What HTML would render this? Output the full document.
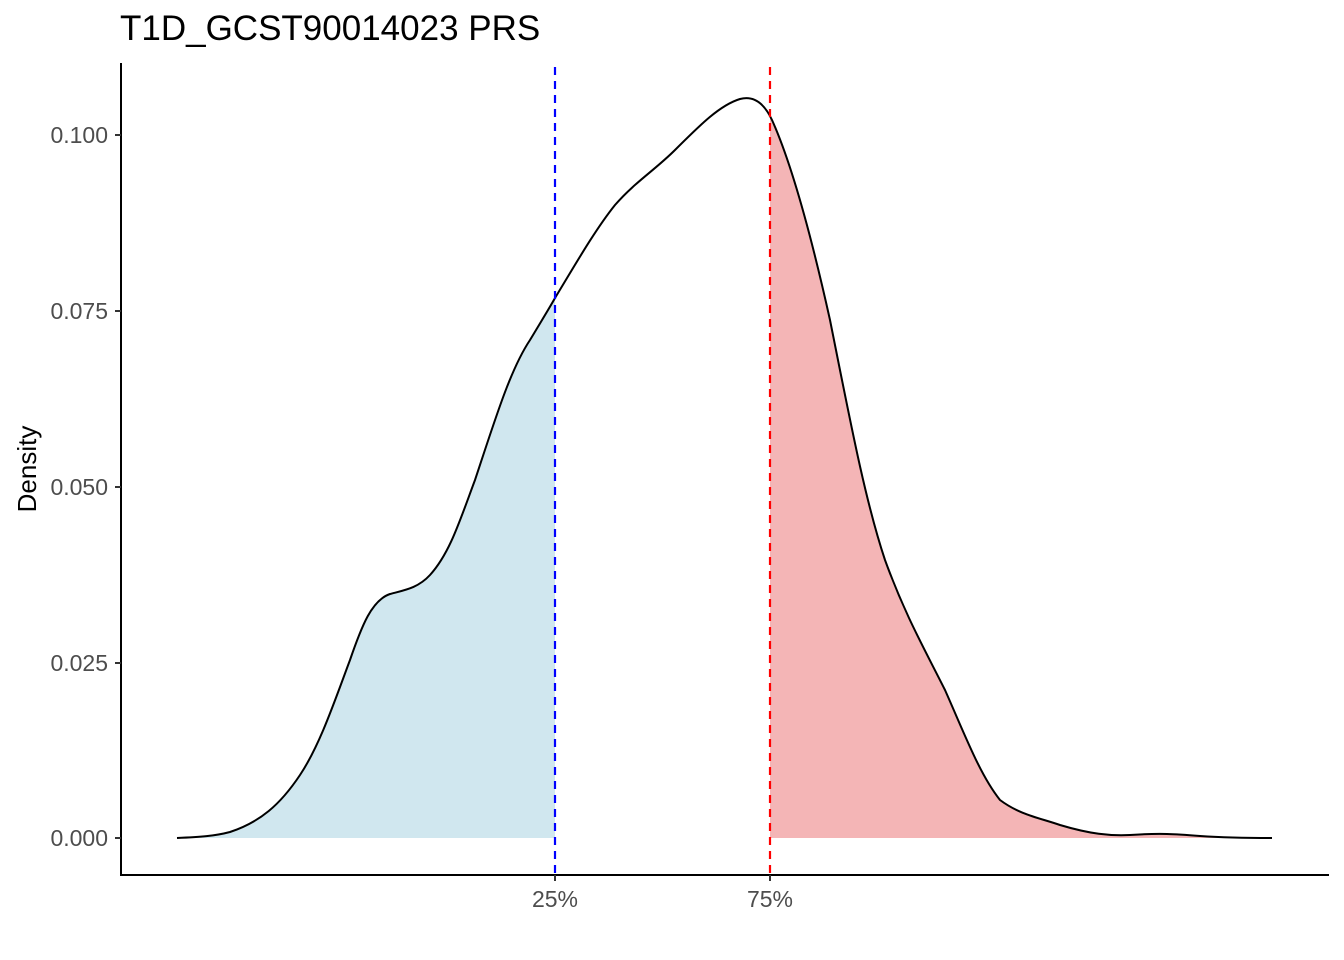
<!DOCTYPE html>
<html><head><meta charset="utf-8"><style>
body{margin:0;background:#fff;}
svg{display:block;font-family:"Liberation Sans",Arial,sans-serif;}
</style></head><body>
<svg width="1344" height="960" viewBox="0 0 1344 960" xmlns="http://www.w3.org/2000/svg">
<defs>
<path id="c" d="M177,838 C200,837 215,836 230,832 C260,822 280,805 300,775 C320,745 335,700 350,660 C362,625 372,600 390,594 C405,590 418,588 430,575 C450,553 460,520 475,480 C495,420 510,370 530,340 C545,315 550,307 555,298 C575,265 595,230 615,205 C635,182 655,170 675,150 C700,125 720,105 740,99 C755,95 765,105 772,120 C790,160 810,230 830,320 C850,420 865,500 885,560 C905,615 925,650 945,690 C965,735 980,775 1000,800 C1020,815 1040,818 1060,825 C1090,834 1110,836 1130,835 C1160,833 1175,834 1200,836 C1230,838 1250,838 1272,838"/>
<clipPath id="lb"><rect x="0" y="0" width="555" height="838"/></clipPath>
<clipPath id="rr"><rect x="770" y="0" width="600" height="838"/></clipPath>
</defs>
<text x="120" y="40" font-size="35" fill="#000">T1D_GCST90014023 PRS</text>
<g clip-path="url(#lb)"><path d="M177,838 C200,837 215,836 230,832 C260,822 280,805 300,775 C320,745 335,700 350,660 C362,625 372,600 390,594 C405,590 418,588 430,575 C450,553 460,520 475,480 C495,420 510,370 530,340 C545,315 550,307 555,298 C575,265 595,230 615,205 L615,838 Z" fill="#d0e7ef"/></g>
<g clip-path="url(#rr)"><path d="M740,838 L740,99 C755,95 765,105 772,120 C790,160 810,230 830,320 C850,420 865,500 885,560 C905,615 925,650 945,690 C965,735 980,775 1000,800 C1020,815 1040,818 1060,825 C1090,834 1110,836 1130,835 C1160,833 1175,834 1200,836 C1230,838 1250,838 1272,838 Z" fill="#f4b5b6"/></g>
<use href="#c" fill="none" stroke="#000" stroke-width="2"/>
<line x1="555" y1="67" x2="555" y2="875" stroke="#0000ff" stroke-width="2.2" stroke-dasharray="8,6"/>
<line x1="770" y1="67" x2="770" y2="875" stroke="#ff0000" stroke-width="2.2" stroke-dasharray="8,6"/>
<line x1="121" y1="63" x2="121" y2="876" stroke="#000" stroke-width="2"/>
<line x1="120" y1="875" x2="1329" y2="875" stroke="#000" stroke-width="2"/>
<g stroke="#333" stroke-width="2">
<line x1="115" y1="838" x2="121" y2="838"/><line x1="115" y1="663" x2="121" y2="663"/>
<line x1="115" y1="487" x2="121" y2="487"/><line x1="115" y1="311" x2="121" y2="311"/>
<line x1="115" y1="135" x2="121" y2="135"/>
<line x1="555" y1="875" x2="555" y2="881"/><line x1="770" y1="875" x2="770" y2="881"/>
</g>
<g font-size="23" fill="#4d4d4d" text-anchor="end">
<text x="108" y="846">0.000</text><text x="108" y="671">0.025</text>
<text x="108" y="495">0.050</text><text x="108" y="319">0.075</text>
<text x="108" y="143">0.100</text>
</g>
<g font-size="23" fill="#4d4d4d" text-anchor="middle">
<text x="555" y="907">25%</text><text x="770" y="907">75%</text>
</g>
<text transform="translate(36,469) rotate(-90)" font-size="26" text-anchor="middle" fill="#000">Density</text>
</svg>
</body></html>
